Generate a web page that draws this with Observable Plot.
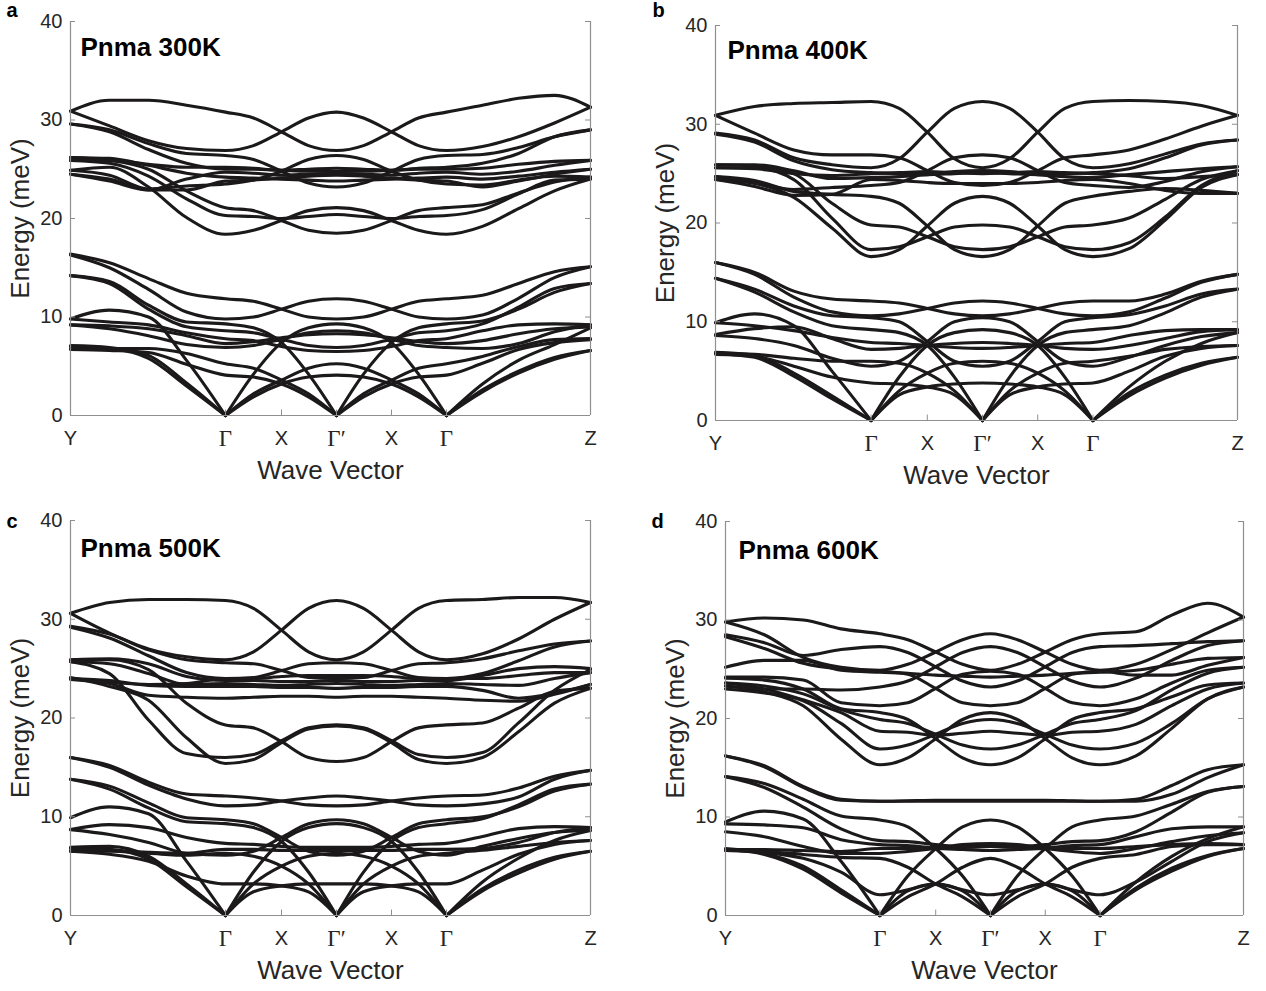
<!DOCTYPE html>
<html><head><meta charset="utf-8">
<script src="https://cdn.jsdelivr.net/npm/d3@7"></script>
<script src="https://cdn.jsdelivr.net/npm/@observablehq/plot@0.6"></script>
<style>
body{margin:0;background:#fff}
#fig{position:relative;width:1266px;height:991px;overflow:hidden;background:#fff}
</style>
</head><body><div id="fig"></div>
<script>
// sample positions along the k-path: Y .. Γ .. X .. Γ' .. X .. Γ .. Z
const kPos = [0, 39, 78, 116, 155, 183, 211, 238, 266, 293, 321, 348, 376, 412, 448, 484, 520];
const kTickPos = [0, 155, 211, 266, 321, 376, 520];
const kTickLabels = ["Y", "Γ", "X", "Γ′", "X", "Γ", "Z"];
const kTickSerif = [false, true, false, true, false, true, false];
const yTicks = [0, 10, 20, 30, 40];
const titles = ["Pnma 300K", "Pnma 400K", "Pnma 500K", "Pnma 600K"];
const letters = ["a", "b", "c", "d"];

const bandsA = [
  [30.9, 32.0, 32.0, 31.5, 30.8, 30.2, 28.8, 27.4, 26.9, 27.4, 28.8, 30.2, 30.8, 31.5, 32.2, 32.5, 31.3],
  [30.9, 29.4, 27.9, 27.1, 26.9, 27.4, 28.8, 30.2, 30.8, 30.2, 28.8, 27.4, 26.9, 27.3, 28.3, 29.7, 31.3],
  [29.6, 29.0, 27.6, 26.6, 26.4, 26.0, 24.8, 23.6, 23.2, 23.6, 24.8, 26.0, 26.4, 26.5, 27.2, 28.3, 29.0],
  [29.6, 28.8, 27.0, 25.6, 25.0, 25.0, 24.9, 24.8, 24.8, 24.8, 24.9, 25.0, 25.0, 25.1, 25.5, 25.8, 25.9],
  [26.2, 26.1, 25.4, 24.6, 24.2, 24.1, 24.0, 23.9, 23.8, 23.9, 24.0, 24.1, 24.2, 24.0, 24.3, 24.7, 25.0],
  [26.2, 25.9, 25.0, 22.8, 21.1, 20.8, 19.8, 18.8, 18.5, 18.8, 19.8, 20.8, 21.1, 21.4, 22.6, 23.7, 24.2],
  [25.9, 25.6, 24.3, 22.0, 20.3, 20.2, 20.0, 20.2, 20.4, 20.2, 20.0, 20.2, 20.3, 20.9, 22.5, 23.9, 24.0],
  [25.9, 25.9, 25.5, 25.2, 25.2, 25.1, 24.9, 25.0, 25.1, 25.0, 24.9, 25.1, 25.2, 25.6, 26.6, 28.3, 29.0],
  [24.9, 25.2, 23.2, 20.1, 18.4, 18.8, 19.8, 20.8, 21.1, 20.8, 19.8, 18.8, 18.4, 19.2, 21.0, 22.8, 24.0],
  [24.9, 24.4, 23.0, 23.3, 23.5, 23.9, 24.8, 26.0, 26.4, 26.0, 24.8, 23.9, 23.5, 23.4, 23.9, 24.3, 24.2],
  [24.5, 24.0, 22.9, 22.9, 23.8, 23.9, 24.1, 24.3, 24.4, 24.3, 24.1, 23.9, 23.8, 23.2, 23.8, 24.5, 25.0],
  [24.5, 23.8, 22.9, 24.0, 24.7, 24.6, 24.4, 24.5, 24.6, 24.5, 24.4, 24.6, 24.7, 24.5, 24.8, 25.4, 25.9],
  [16.4, 15.5, 13.9, 12.4, 11.85, 11.6, 10.8, 10.0, 9.8, 10.0, 10.8, 11.6, 11.85, 12.2, 13.4, 14.6, 15.1],
  [16.3, 15.0, 12.8, 10.5, 9.8, 10.0, 10.8, 11.6, 11.85, 11.6, 10.8, 10.0, 9.8, 10.2, 11.9, 14.0, 15.1],
  [14.2, 13.6, 11.2, 9.5, 9.3, 8.9, 7.4, 4.2, 0, 4.2, 7.4, 8.9, 9.3, 9.6, 10.8, 12.5, 13.4],
  [14.2, 13.4, 10.8, 9.0, 8.6, 8.4, 7.75, 7.1, 6.9, 7.1, 7.75, 8.4, 8.6, 9.3, 11.0, 12.9, 13.4],
  [9.8, 10.7, 10.0, 5.6, 0, 4.2, 7.4, 8.9, 9.3, 8.9, 7.4, 4.2, 0, 3.2, 5.6, 7.2, 8.9],
  [9.8, 9.5, 9.2, 8.4, 7.8, 7.6, 7.0, 6.6, 6.5, 6.6, 7.0, 7.6, 7.8, 8.6, 9.2, 9.3, 9.2],
  [9.2, 9.1, 8.8, 8.1, 7.3, 7.5, 7.9, 8.2, 8.3, 8.2, 7.9, 7.5, 7.3, 7.6, 8.3, 8.8, 9.0],
  [9.2, 8.8, 8.1, 7.2, 6.9, 7.1, 7.75, 8.4, 8.6, 8.4, 7.75, 7.1, 6.9, 6.8, 7.3, 8.5, 9.2],
  [7.1, 6.9, 6.1, 3.3, 0, 2.2, 3.6, 4.8, 5.25, 4.8, 3.6, 2.2, 0, 2.6, 4.5, 5.9, 6.6],
  [7.0, 6.8, 5.8, 3.0, 0, 1.9, 3.2, 3.9, 4.1, 3.9, 3.2, 1.9, 0, 2.4, 4.3, 5.7, 6.6],
  [6.8, 6.8, 6.8, 6.3, 5.25, 4.8, 3.6, 2.2, 0, 2.2, 3.6, 4.8, 5.25, 6.0, 7.0, 7.7, 7.8],
  [6.7, 6.6, 6.4, 5.2, 4.1, 3.9, 3.2, 1.9, 0, 1.9, 3.2, 3.9, 4.1, 5.3, 6.7, 7.4, 7.7]
];

const bandsB = [
  [30.9, 31.8, 32.1, 32.2, 32.3, 31.6, 29.2, 26.5, 25.6, 26.5, 29.2, 31.6, 32.3, 32.4, 32.3, 31.9, 30.9],
  [30.9, 29.1, 27.4, 26.9, 26.9, 26.6, 25.3, 24.1, 23.8, 24.1, 25.3, 26.6, 26.9, 27.4, 28.5, 29.8, 30.9],
  [29.1, 28.4, 26.6, 25.9, 25.6, 26.5, 29.2, 31.6, 32.3, 31.6, 29.2, 26.5, 25.6, 26.0, 27.0, 28.0, 28.4],
  [29.0, 28.2, 26.3, 25.4, 25.1, 25.0, 24.9, 25.0, 25.1, 25.0, 24.9, 25.0, 25.1, 25.5, 26.6, 27.9, 28.4],
  [25.9, 25.9, 25.3, 24.5, 24.6, 24.7, 24.9, 25.2, 25.3, 25.2, 24.9, 24.7, 24.6, 24.9, 25.2, 25.5, 25.7],
  [25.9, 25.8, 25.0, 22.0, 19.8, 19.6, 18.6, 17.6, 17.3, 17.6, 18.6, 19.6, 19.8, 20.5, 22.4, 24.4, 25.3],
  [25.6, 25.6, 24.4, 20.5, 17.3, 17.6, 18.6, 19.6, 19.8, 19.6, 18.6, 17.6, 17.3, 18.0, 20.6, 23.8, 25.3],
  [25.6, 25.5, 25.0, 24.8, 25.0, 25.1, 25.2, 25.1, 25.0, 25.1, 25.2, 25.1, 25.0, 24.8, 24.5, 24.7, 24.9],
  [24.7, 24.3, 23.2, 22.9, 22.7, 22.0, 19.7, 17.3, 16.6, 17.3, 19.7, 22.0, 22.7, 23.2, 23.5, 23.3, 23.0],
  [24.7, 24.1, 23.4, 23.6, 23.8, 24.1, 25.3, 26.6, 26.9, 26.6, 25.3, 24.1, 23.8, 23.6, 24.2, 25.2, 25.7],
  [24.4, 24.0, 22.6, 19.5, 16.6, 17.3, 19.7, 22.0, 22.7, 22.0, 19.7, 17.3, 16.6, 17.4, 20.3, 23.6, 24.9],
  [24.4, 23.7, 22.8, 22.9, 24.4, 24.3, 24.1, 24.0, 24.0, 24.0, 24.1, 24.3, 24.4, 24.0, 23.3, 23.0, 23.0],
  [16.0, 15.0, 13.1, 12.3, 12.1, 11.9, 11.35, 10.8, 10.6, 10.8, 11.35, 11.9, 12.1, 12.1, 12.8, 14.1, 14.8],
  [16.0, 14.8, 12.5, 11.0, 10.6, 10.8, 11.35, 11.9, 12.1, 11.9, 11.35, 10.8, 10.6, 11.0, 12.4, 14.0, 14.8],
  [14.4, 13.3, 11.6, 10.6, 10.4, 10.0, 8.0, 6.0, 5.5, 6.0, 8.0, 10.0, 10.4, 10.7, 11.6, 12.8, 13.3],
  [14.4, 13.0, 11.0, 9.6, 9.2, 8.9, 7.6, 4.4, 0, 4.4, 7.6, 8.9, 9.2, 9.6, 10.9, 12.5, 13.3],
  [9.9, 10.8, 9.6, 5.0, 0, 4.4, 7.6, 8.9, 9.2, 8.9, 7.6, 4.4, 0, 3.4, 6.0, 7.8, 8.9],
  [9.9, 9.6, 9.1, 8.4, 7.9, 7.8, 7.6, 7.4, 7.3, 7.4, 7.6, 7.8, 7.9, 8.6, 9.1, 9.2, 9.2],
  [8.7, 9.3, 9.5, 8.3, 7.2, 7.3, 7.6, 7.8, 7.9, 7.8, 7.6, 7.3, 7.2, 7.6, 8.3, 9.0, 9.2],
  [8.6, 8.3, 7.6, 6.3, 5.5, 6.0, 8.0, 10.0, 10.4, 10.0, 8.0, 6.0, 5.5, 6.4, 7.6, 8.5, 8.9],
  [6.9, 6.6, 4.8, 2.5, 0, 2.6, 3.4, 3.7, 3.8, 3.7, 3.4, 2.6, 0, 2.8, 4.6, 5.8, 6.4],
  [6.8, 6.4, 4.5, 2.2, 0, 3.0, 4.8, 5.8, 6.0, 5.8, 4.8, 3.0, 0, 2.5, 4.3, 5.6, 6.4],
  [6.8, 6.7, 6.3, 6.0, 6.0, 5.8, 4.8, 3.0, 0, 3.0, 4.8, 5.8, 6.0, 6.5, 7.2, 7.5, 7.6],
  [6.7, 6.5, 5.5, 4.4, 3.8, 3.7, 3.4, 2.6, 0, 2.6, 3.4, 3.7, 3.8, 5.0, 6.5, 7.3, 7.6]
];

const bandsC = [
  [30.6, 31.7, 32.0, 32.0, 31.9, 31.1, 28.9, 26.7, 25.9, 26.7, 28.9, 31.1, 31.9, 32.0, 32.2, 32.2, 31.7],
  [30.6, 28.6, 27.0, 26.2, 25.9, 26.7, 28.9, 31.1, 31.9, 31.1, 28.9, 26.7, 25.9, 26.5, 28.0, 30.0, 31.7],
  [29.3, 28.5, 26.9, 25.9, 25.6, 25.5, 24.8, 24.1, 24.0, 24.1, 24.8, 25.5, 25.6, 26.0, 26.8, 27.5, 27.8],
  [29.2, 28.1, 26.3, 24.6, 24.0, 24.1, 24.8, 25.5, 25.6, 25.5, 24.8, 24.1, 24.0, 24.5, 25.8, 27.2, 27.8],
  [25.9, 26.0, 25.5, 24.2, 23.8, 23.8, 23.7, 23.7, 23.8, 23.7, 23.7, 23.8, 23.8, 24.3, 25.0, 25.2, 25.0],
  [25.9, 25.9, 24.9, 21.5, 19.3, 19.0, 17.6, 16.0, 15.6, 16.0, 17.6, 19.0, 19.3, 19.5, 21.0, 22.7, 23.0],
  [25.7, 24.5, 19.8, 16.4, 16.0, 16.3, 17.7, 19.0, 19.3, 19.0, 17.7, 16.3, 16.0, 16.5, 19.5, 22.8, 24.9],
  [25.7, 25.5, 24.5, 23.4, 23.5, 23.4, 23.3, 23.4, 23.5, 23.4, 23.3, 23.4, 23.5, 23.4, 23.3, 24.0, 24.6],
  [24.1, 23.2, 21.8, 18.0, 15.4, 15.8, 17.5, 18.9, 19.2, 18.9, 17.5, 15.8, 15.4, 16.0, 18.6, 21.5, 23.0],
  [24.0, 23.5, 22.3, 22.1, 22.0, 22.1, 22.2, 22.2, 22.1, 22.2, 22.2, 22.1, 22.0, 21.8, 21.7, 22.4, 23.4],
  [24.0, 23.8, 23.3, 23.2, 23.2, 23.2, 23.1, 23.1, 23.0, 23.1, 23.1, 23.2, 23.2, 22.8, 22.0, 22.5, 23.4],
  [23.9, 23.6, 23.4, 23.5, 24.0, 24.0, 24.2, 24.3, 24.3, 24.3, 24.2, 24.0, 24.0, 24.0, 24.3, 24.6, 24.6],
  [16.0, 15.2, 13.5, 12.3, 12.1, 11.9, 11.6, 11.2, 11.1, 11.2, 11.6, 11.9, 12.1, 12.2, 12.9, 14.1, 14.7],
  [16.0, 15.0, 13.2, 11.8, 11.1, 11.2, 11.6, 11.9, 12.1, 11.9, 11.6, 11.2, 11.1, 11.3, 12.0, 13.8, 14.7],
  [13.8, 13.1, 11.4, 9.9, 9.7, 9.3, 7.9, 6.5, 6.1, 6.5, 7.9, 9.3, 9.7, 10.0, 11.0, 12.6, 13.3],
  [13.8, 12.8, 10.9, 9.5, 9.3, 8.9, 7.5, 4.4, 0, 4.4, 7.5, 8.9, 9.3, 9.8, 11.2, 12.8, 13.3],
  [9.9, 11.0, 10.3, 5.5, 0, 4.4, 7.5, 8.9, 9.3, 8.9, 7.5, 4.4, 0, 3.4, 5.8, 7.6, 8.6],
  [8.7, 9.2, 8.9, 7.9, 7.3, 7.2, 7.0, 6.9, 6.9, 6.9, 7.0, 7.2, 7.3, 8.0, 8.8, 9.0, 8.9],
  [8.7, 8.2, 7.4, 6.3, 6.1, 6.5, 7.9, 9.3, 9.7, 9.3, 7.9, 6.5, 6.1, 7.0, 7.8, 8.4, 8.6],
  [6.9, 7.0, 6.0, 3.2, 0, 2.4, 3.0, 3.2, 3.2, 3.2, 3.0, 2.4, 0, 2.7, 4.6, 5.9, 6.5],
  [6.8, 6.7, 5.7, 2.9, 0, 3.2, 5.0, 6.0, 6.3, 6.0, 5.0, 3.2, 0, 2.5, 4.3, 5.7, 6.5],
  [6.5, 6.5, 6.3, 6.1, 6.3, 6.0, 5.0, 3.2, 0, 3.2, 5.0, 6.0, 6.3, 6.6, 7.0, 7.4, 7.6],
  [6.5, 6.2, 5.5, 4.0, 3.2, 3.2, 3.0, 2.4, 0, 2.4, 3.0, 3.2, 3.2, 4.6, 6.2, 7.2, 7.6],
  [6.8, 6.6, 6.4, 6.3, 6.7, 6.7, 6.6, 6.6, 6.6, 6.6, 6.6, 6.7, 6.7, 6.8, 7.4, 8.4, 8.9]
];

const bandsD = [
  [29.8, 30.2, 30.0, 29.1, 28.6, 28.0, 26.75, 25.5, 24.9, 25.5, 26.75, 28.0, 28.6, 28.8, 30.5, 31.7, 30.3],
  [29.8, 28.5, 26.2, 25.2, 24.9, 25.5, 26.75, 28.0, 28.6, 28.0, 26.75, 25.5, 24.9, 25.5, 27.0, 28.7, 30.3],
  [28.5, 27.7, 26.4, 27.0, 27.3, 26.7, 25.25, 23.8, 23.2, 23.8, 25.25, 26.7, 27.3, 27.4, 27.6, 27.8, 27.9],
  [28.3, 27.1, 25.6, 25.0, 24.8, 24.5, 23.05, 21.6, 21.3, 21.6, 23.05, 24.5, 24.8, 24.4, 24.4, 25.4, 26.2],
  [25.2, 25.9, 25.9, 24.9, 24.7, 24.6, 24.4, 24.3, 24.2, 24.3, 24.4, 24.6, 24.7, 24.9, 25.5, 26.1, 26.2],
  [24.2, 24.2, 23.9, 21.6, 21.3, 21.6, 23.05, 24.5, 24.8, 24.5, 23.05, 21.6, 21.3, 22.0, 23.6, 24.9, 25.2],
  [24.1, 23.9, 23.0, 21.0, 20.6, 19.9, 17.95, 16.0, 15.3, 16.0, 17.95, 19.9, 20.6, 21.0, 22.2, 23.4, 23.6],
  [23.3, 22.7, 21.3, 17.9, 15.3, 16.0, 17.95, 19.9, 20.6, 19.9, 17.95, 16.0, 15.3, 16.2, 19.0, 22.0, 23.2],
  [23.0, 22.6, 21.8, 19.5, 16.9, 17.3, 18.4, 19.5, 19.9, 19.5, 18.4, 17.3, 16.9, 17.5, 19.5, 22.0, 23.2],
  [23.6, 23.0, 21.9, 20.6, 18.7, 18.6, 18.3, 18.5, 18.7, 18.5, 18.3, 18.6, 18.7, 19.4, 21.3, 23.0, 23.6],
  [23.3, 23.0, 23.0, 22.9, 23.2, 23.8, 25.25, 26.7, 27.3, 26.7, 25.25, 23.8, 23.2, 24.1, 25.9, 27.4, 27.9],
  [23.6, 23.3, 22.5, 20.9, 19.9, 19.5, 18.4, 17.3, 16.9, 17.3, 18.4, 19.5, 19.9, 20.8, 22.9, 24.6, 25.2],
  [16.2, 15.2, 13.1, 11.8, 11.6, 11.65, 11.7, 11.7, 11.7, 11.7, 11.7, 11.65, 11.6, 11.6, 12.3, 14.0, 15.3],
  [16.2, 15.1, 13.0, 11.7, 11.6, 11.6, 11.6, 11.6, 11.6, 11.6, 11.6, 11.6, 11.6, 11.8, 13.2, 14.8, 15.3],
  [14.1, 13.4, 11.8, 10.1, 9.7, 9.0, 6.8, 4.0, 0, 4.0, 6.8, 9.0, 9.7, 10.1, 11.3, 12.6, 13.1],
  [14.1, 13.0, 11.0, 8.8, 7.6, 7.5, 7.2, 7.0, 7.0, 7.0, 7.2, 7.5, 7.6, 8.5, 10.5, 12.5, 13.1],
  [9.5, 10.6, 9.8, 5.5, 0, 4.0, 6.8, 9.0, 9.7, 9.0, 6.8, 4.0, 0, 3.4, 6.0, 7.8, 9.0],
  [9.3, 9.2, 8.9, 7.7, 7.2, 7.1, 6.9, 6.9, 7.0, 6.9, 6.9, 7.1, 7.2, 8.0, 8.8, 9.0, 9.0],
  [8.5, 8.0, 7.0, 6.3, 6.3, 6.5, 6.8, 7.2, 7.3, 7.2, 6.8, 6.5, 6.3, 6.8, 7.5, 8.1, 8.4],
  [6.7, 6.7, 6.6, 6.5, 6.8, 6.8, 6.8, 6.7, 6.6, 6.7, 6.8, 6.8, 6.8, 7.0, 7.2, 7.3, 7.2],
  [6.8, 6.3, 5.0, 2.6, 0, 1.9, 3.2, 4.9, 5.8, 4.9, 3.2, 1.9, 0, 2.8, 4.8, 6.1, 6.8],
  [6.7, 6.2, 4.7, 2.3, 0, 2.5, 3.2, 2.6, 2.1, 2.6, 3.2, 2.5, 0, 2.6, 4.5, 6.0, 6.8],
  [6.6, 6.4, 5.8, 4.4, 2.1, 2.6, 3.2, 2.5, 0, 2.5, 3.2, 2.6, 2.1, 3.4, 5.5, 7.5, 8.4],
  [6.6, 6.5, 6.2, 5.9, 5.8, 4.9, 3.2, 1.9, 0, 1.9, 3.2, 4.9, 5.8, 6.2, 7.0, 7.2, 7.2]
];

// convert bands to rows; acoustic branches are split at their zero points so the V stays sharp
function tidy(bands) {
  const rows = [];
  bands.forEach((b, i) => {
    let seg = 0;
    b.forEach((e, j) => {
      rows.push({k: kPos[j], e, z: i + "-" + seg});
      if (e === 0 && j > 0 && j < b.length - 1) {
        seg++;
        rows.push({k: kPos[j], e, z: i + "-" + seg});
      }
    });
  });
  return rows;
}

const tickRows = kTickPos.map((k, i) => ({k, label: kTickLabels[i], serif: kTickSerif[i]}));
const axisColor = "#8f8f8f";
const textColor = "#262626";

const layouts = [
  {bands: bandsA, left: 0,   top: 0,   w: 600, h: 490, ml: 70, mr: 10, mt: 21, mb: 75, lx: -64, ly: -11, tx: 10, ty: 26},
  {bands: bandsB, left: 645, top: 0,   w: 600, h: 490, ml: 70, mr: 8,  mt: 25, mb: 70, lx: -63, ly: -15, tx: 12, ty: 25},
  {bands: bandsC, left: 0,   top: 495, w: 600, h: 496, ml: 70, mr: 10, mt: 25, mb: 76, lx: -64, ly: 1,   tx: 10, ty: 28},
  {bands: bandsD, left: 655, top: 495, w: 600, h: 496, ml: 70, mr: 12, mt: 26, mb: 76, lx: -74, ly: 0,   tx: 13, ty: 29}
];

const fig = document.getElementById("fig");
layouts.forEach((L, p) => {
  const rows = tidy(L.bands);
  const svg = Plot.plot({
    width: L.w, height: L.h,
    marginLeft: L.ml, marginRight: L.mr, marginTop: L.mt, marginBottom: L.mb,
    x: {domain: [0, 520], axis: null},
    y: {domain: [0, 40], axis: null},
    style: {fontFamily: "'Liberation Sans', Arial, Helvetica, sans-serif", background: "transparent", overflow: "visible"},
    marks: [
      Plot.line(rows, {x: "k", y: "e", z: "z", curve: "monotone-x", stroke: "#1b1919", strokeWidth: 3.1, strokeLinejoin: "round", strokeLinecap: "round"}),
      Plot.ruleY([0], {stroke: axisColor, strokeWidth: 1.2}),
      Plot.ruleX([0, 520], {stroke: axisColor, strokeWidth: 1.2}),
      Plot.ruleX(kTickPos, {y1: () => 0, y2: () => 0.55, stroke: axisColor}),
      Plot.ruleY(yTicks, {x1: () => 0, x2: () => 5, stroke: axisColor}),
      Plot.ruleY(yTicks, {x1: () => 515, x2: () => 520, stroke: axisColor}),
      Plot.text(yTicks, {x: () => 0, y: d => d, text: d => String(d), dx: -8, textAnchor: "end", lineAnchor: "middle", fontSize: 20, fill: textColor}),
      Plot.text(tickRows.filter(d => !d.serif), {x: "k", y: () => 0, text: "label", dy: 23, lineAnchor: "middle", fontSize: 20, fill: textColor}),
      Plot.text(tickRows.filter(d => d.serif), {x: "k", y: () => 0, text: "label", dy: 23, lineAnchor: "middle", fontSize: 23, fill: textColor, fontFamily: "'Liberation Serif', 'DejaVu Serif', serif"}),
      Plot.text(["Wave Vector"], {frameAnchor: "bottom", text: d => d, dy: 55, textAnchor: "middle", lineAnchor: "middle", fontSize: 26, fill: textColor}),
      Plot.text(["Energy (meV)"], {frameAnchor: "left", text: d => d, dx: -50, rotate: -90, textAnchor: "middle", lineAnchor: "middle", fontSize: 26, fill: textColor}),
      Plot.text([titles[p]], {frameAnchor: "top-left", text: d => d, dx: L.tx, dy: L.ty, textAnchor: "start", lineAnchor: "middle", fontSize: 26, fontWeight: "bold", fill: "#000"}),
      Plot.text([letters[p]], {frameAnchor: "top-left", text: d => d, dx: L.lx, dy: L.ly, textAnchor: "start", lineAnchor: "middle", fontSize: 20, fontWeight: "bold", fill: "#000"})
    ]
  });
  svg.style.position = "absolute";
  svg.style.left = L.left + "px";
  svg.style.top = L.top + "px";
  fig.appendChild(svg);
});
</script>
</body></html>
